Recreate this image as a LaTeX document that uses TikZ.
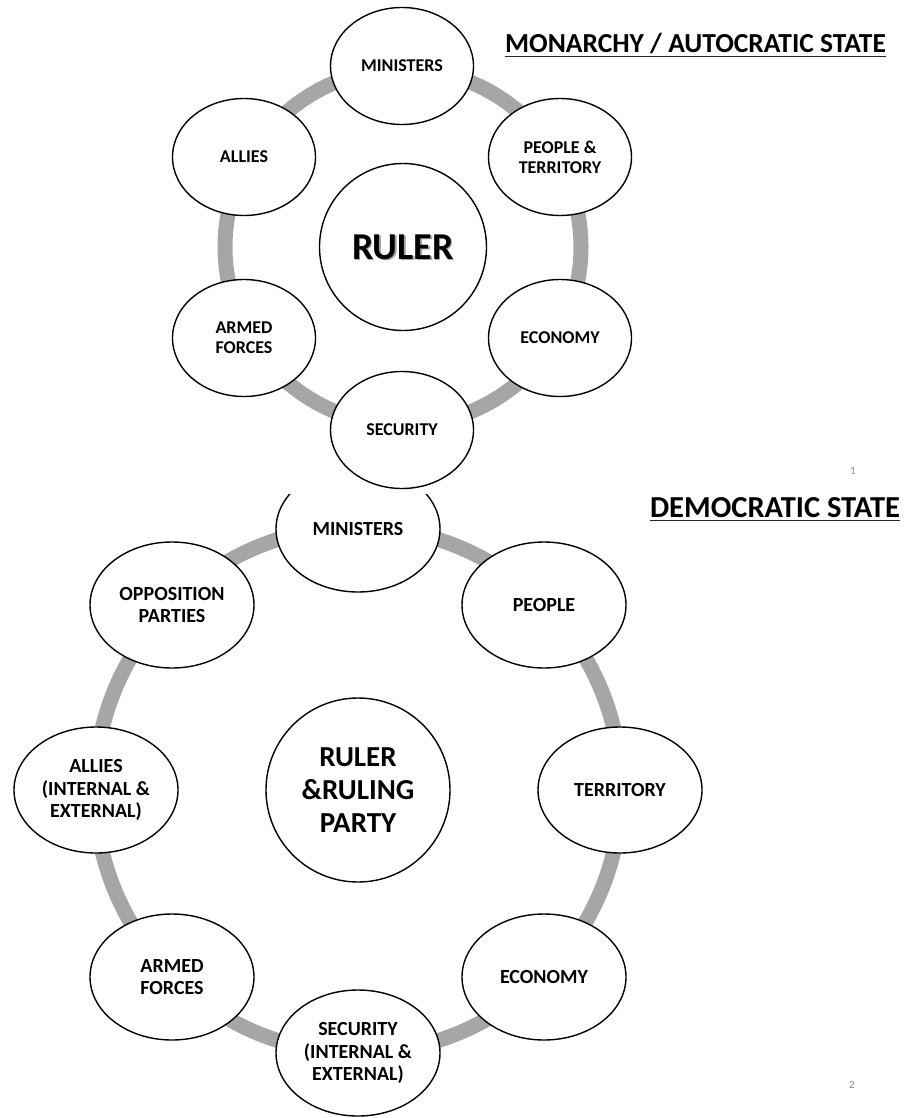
\documentclass[tikz,border=0pt]{standalone}
\usepackage{fontspec}
\setmainfont{Carlito}
\usetikzlibrary{shapes.geometric}
\begin{document}
\begin{tikzpicture}[x=1pt,y=-1pt,
  topnode/.style={draw=black,line width=1.4pt,fill=white,ellipse,inner sep=0pt,
    minimum width=143pt,minimum height=117pt,align=center,
    font=\fontsize{18}{20}\selectfont\bfseries},
  botnode/.style={draw=black,line width=1.4pt,fill=white,ellipse,inner sep=0pt,
    minimum width=164pt,minimum height=126pt,align=center,
    font=\fontsize{20}{22.5}\selectfont\bfseries},
  hub/.style={draw=black,line width=1.4pt,fill=white,circle,inner sep=0pt,align=center},
  ring/.style={draw=black!35,line width=15pt},
  titletext/.style={inner sep=0pt,anchor=base},
  uline/.style={line width=1.5pt,draw=black!85},
  pagenum/.style={inner sep=0pt,text=black!45,font=\fontsize{11}{12}\selectfont}
]
\useasboundingbox (0,0) rectangle (911,1118);

% ---------- top: monarchy ----------
\coordinate (topc) at (403,247);
\draw[ring] (topc) circle[radius=178pt];
\node[hub,minimum size=167pt] (ruler) at (topc) {};
\node[inner sep=0pt,text=black!35,font=\fontsize{38}{40}\selectfont\bfseries] (rulershadow)
  at ([shift={(1.5,1.5)}]ruler.center) {RULER};
\node[inner sep=0pt,font=\fontsize{38}{40}\selectfont\bfseries] (rulertext) at (ruler.center) {RULER};

\node[topnode] (tmin) at (402,66) {MINISTERS};
\node[topnode] (tall) at (244,157) {ALLIES};
\node[topnode] (tpeo) at (560,157) {PEOPLE \&\\TERRITORY};
\node[topnode] (tarm) at (244,338) {ARMED\\FORCES};
\node[topnode] (teco) at (560,338) {ECONOMY};
\node[topnode] (tsec) at (402,430) {SECURITY};

\node[titletext,font=\fontsize{27.5}{30}\selectfont\bfseries] (t1) at (695.5,53) {MONARCHY / AUTOCRATIC STATE};
\draw[uline] ([yshift=-3.5pt]t1.base west) -- ([yshift=-3.5pt]t1.base east);
\node[pagenum] (p1) at (853,471) {1};

% ---------- bottom: democratic ----------
\begin{scope}
\clip (0,494) rectangle (911,1118);
\coordinate (botc) at (358,790);
\draw[ring] (botc) circle[radius=263pt];
\node[hub,minimum size=184pt,font=\fontsize{29}{33}\selectfont\bfseries] (party) at (botc)
  {RULER\\\&RULING\\PARTY};
\node[botnode] (bmin) at (358,529) {MINISTERS};
\node[botnode] (bopp) at (172,605) {OPPOSITION\\PARTIES};
\node[botnode] (bpeo) at (544,605) {PEOPLE};
\node[botnode] (ball) at (96,790) {ALLIES\\(INTERNAL \&\\EXTERNAL)};
\node[botnode] (bter) at (620,790) {TERRITORY};
\node[botnode] (barm) at (172,977) {ARMED\\FORCES};
\node[botnode] (beco) at (544,977) {ECONOMY};
\node[botnode] (bsec) at (358,1053) {SECURITY\\(INTERNAL \&\\EXTERNAL)};
\end{scope}

\node[titletext,font=\fontsize{30.5}{33}\selectfont\bfseries] (t2) at (775,517) {DEMOCRATIC STATE};
\draw[uline] ([yshift=-3.5pt]t2.base west) -- ([yshift=-3.5pt]t2.base east);
\node[pagenum] (p2) at (852,1085) {2};
\end{tikzpicture}
\end{document}
